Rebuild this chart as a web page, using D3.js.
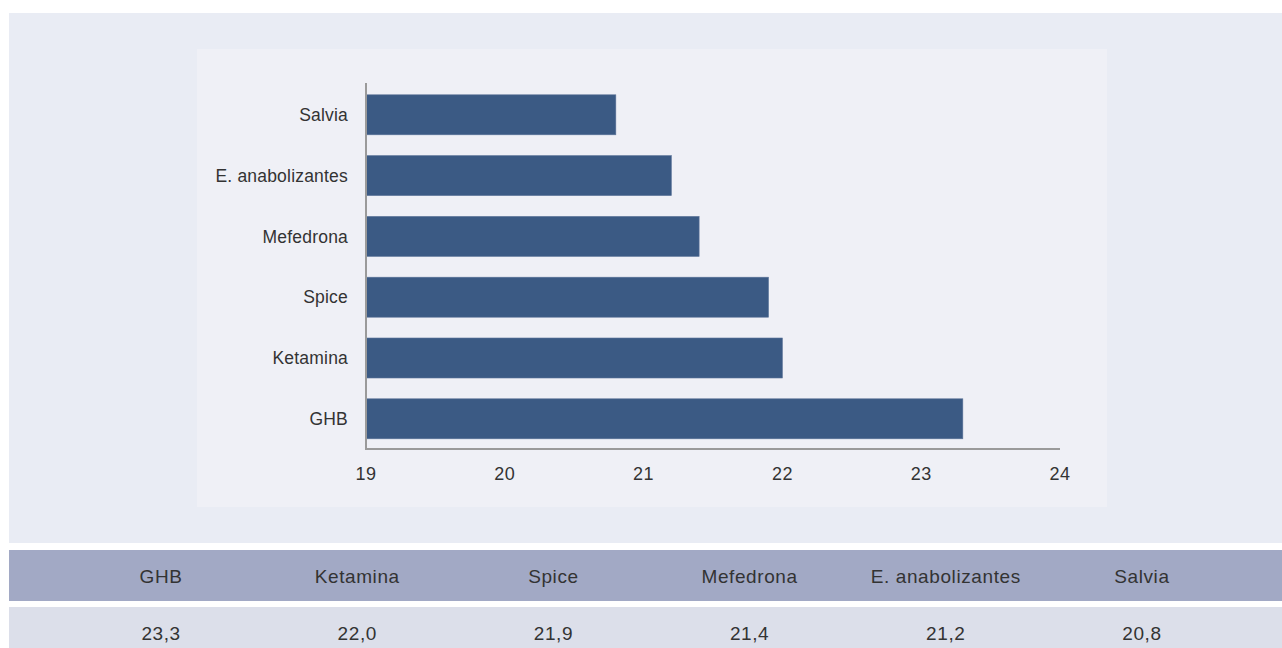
<!DOCTYPE html>
<html><head><meta charset="utf-8">
<script src="https://cdn.jsdelivr.net/npm/d3@7"></script>
<style>html,body{margin:0;padding:0;background:#fff;}svg{display:block;font-family:"Liberation Sans",Arial,Helvetica,sans-serif;}</style>
</head><body>
<svg id="c" width="1282" height="648"></svg>
<script>
const categories = ["GHB", "Ketamina", "Spice", "Mefedrona", "E. anabolizantes", "Salvia"];
const values = [23.3, 22.0, 21.9, 21.4, 21.2, 20.8];
const xTicks = [19, 20, 21, 22, 23, 24];

const svg = d3.select("#c");
// panels
svg.append("rect").attr("x", 9).attr("y", 13).attr("width", 1273).attr("height", 530).attr("fill", "#e9ecf4");
svg.append("rect").attr("x", 197).attr("y", 49).attr("width", 910).attr("height", 458).attr("fill", "#eff0f6");

const x = d3.scaleLinear().domain([19, 24]).range([366, 1060]);
const chartOrder = categories.slice().reverse();
const y = d3.scaleBand().domain(chartOrder).range([84.4, 449.2]).paddingInner(0.342).paddingOuter(0.171);
const data = categories.map((c, i) => ({c, v: values[i]}));

svg.append("g").selectAll("rect").data(data).join("rect")
  .attr("x", x(19)).attr("y", d => y(d.c))
  .attr("width", d => x(d.v) - x(19)).attr("height", y.bandwidth())
  .attr("fill", "#3b5a84").attr("stroke", "#5d7599").attr("stroke-width", 0.6);

// axes lines
svg.append("line").attr("x1", 366).attr("x2", 366).attr("y1", 83).attr("y2", 449.5).attr("stroke", "#9a9a9a").attr("stroke-width", 2);
svg.append("line").attr("x1", 365).attr("x2", x(24)).attr("y1", 449).attr("y2", 449).attr("stroke", "#9a9a9a").attr("stroke-width", 2);

// category labels
svg.append("g").selectAll("text").data(chartOrder).join("text")
  .attr("x", 348).attr("y", d => y(d) + y.bandwidth() / 2).attr("dy", "0.35em")
  .attr("text-anchor", "end").attr("font-size", 17.5).attr("letter-spacing", 0.2).attr("fill", "#333").text(d => d);

// x tick labels
svg.append("g").selectAll("text").data(xTicks).join("text")
  .attr("x", d => x(d)).attr("y", 474).attr("dy", "0.35em")
  .attr("text-anchor", "middle").attr("font-size", 18).attr("letter-spacing", 0.5).attr("fill", "#333").text(d => d);

// table
svg.append("rect").attr("x", 9).attr("y", 550).attr("width", 1273).attr("height", 51).attr("fill", "#a2a9c5");
svg.append("rect").attr("x", 9).attr("y", 607).attr("width", 1273).attr("height", 41).attr("fill", "#dcdfea");
const tx = d3.scaleBand().domain(categories).range([63, 1240]);
svg.append("g").selectAll("text").data(categories).join("text")
  .attr("x", d => tx(d) + tx.bandwidth() / 2).attr("y", 576).attr("dy", "0.35em")
  .attr("text-anchor", "middle").attr("font-size", 19).attr("letter-spacing", 0.6).attr("fill", "#333").text(d => d);
svg.append("g").selectAll("text").data(data).join("text")
  .attr("x", d => tx(d.c) + tx.bandwidth() / 2).attr("y", 633).attr("dy", "0.35em")
  .attr("text-anchor", "middle").attr("font-size", 19).attr("letter-spacing", 0.6).attr("fill", "#333").text(d => d.v.toFixed(1).replace(".", ","));
</script>
</body></html>
